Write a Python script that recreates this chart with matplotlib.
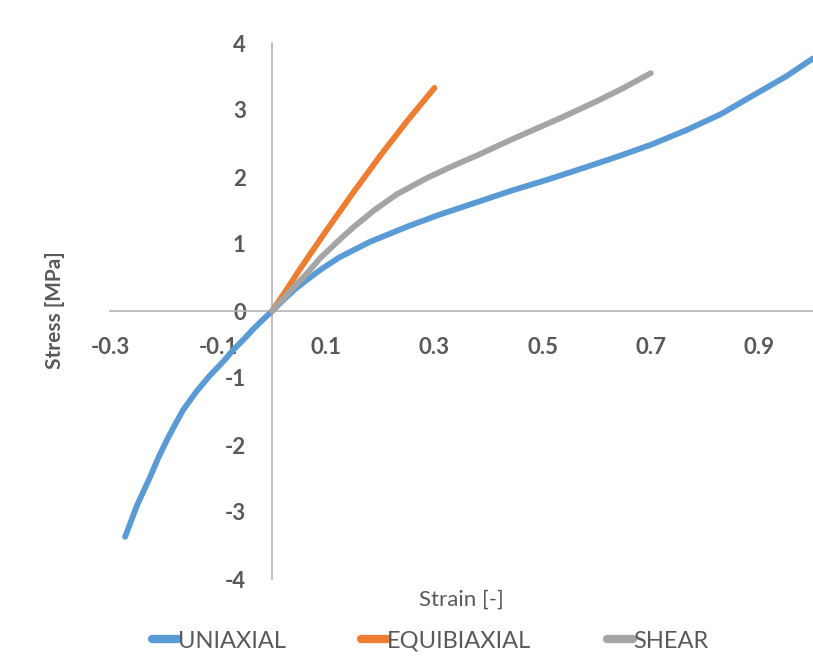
import matplotlib
matplotlib.use('Agg')
import matplotlib.pyplot as plt
from matplotlib.lines import Line2D

plt.rcParams['font.family'] = ['Lato', 'DejaVu Sans']
plt.rcParams['axes.unicode_minus'] = False

# curves
uni_strain = [-0.272, -0.25, -0.226, -0.21, -0.195, -0.18, -0.165, -0.14, -0.115,
              -0.09, -0.072, -0.05, -0.035, -0.02, 0.0, 0.02, 0.04, 0.06, 0.09,
              0.124, 0.18, 0.253, 0.31, 0.381, 0.44, 0.509, 0.57, 0.637, 0.70,
              0.766, 0.83, 0.894, 0.95, 1.0]
uni_stress = [-3.37, -2.9, -2.48, -2.18, -1.93, -1.7, -1.48, -1.2, -0.96,
              -0.75, -0.58, -0.4, -0.27, -0.15, 0.0, 0.16, 0.31, 0.44, 0.62,
              0.8, 1.03, 1.27, 1.44, 1.63, 1.79, 1.96, 2.12, 2.30, 2.48,
              2.70, 2.94, 3.24, 3.5, 3.77]

equi_strain = [0.0, 0.025, 0.05, 0.1, 0.15, 0.2, 0.25, 0.3]
equi_stress = [0.0, 0.3, 0.61, 1.2, 1.77, 2.32, 2.84, 3.33]

shear_strain = [0.0, 0.03, 0.064, 0.09, 0.124, 0.15, 0.188, 0.23, 0.285, 0.33,
                0.381, 0.44, 0.533, 0.6, 0.65, 0.7]
shear_stress = [0.0, 0.27, 0.56, 0.8, 1.06, 1.25, 1.5, 1.74, 1.98, 2.15,
                2.33, 2.55, 2.88, 3.13, 3.33, 3.55]

x_ticks = [-0.3, -0.1, 0.1, 0.3, 0.5, 0.7, 0.9]
y_ticks = [-4, -3, -2, -1, 0, 1, 2, 3, 4]

names = ['UNIAXIAL', 'EQUIBIAXIAL', 'SHEAR']
colors = ['#5b9bd5', '#ed7d31', '#a5a5a5']
text_col = '#595959'
axis_col = '#b4b4b4'

fig = plt.figure(figsize=(8.13, 6.58), dpi=100)
ax = fig.add_axes([110 / 813, 79 / 658, 703 / 813, 536 / 658])

series = [(uni_strain, uni_stress), (equi_strain, equi_stress), (shear_strain, shear_stress)]
for (xs, ys), c in zip(series, colors):
    ax.plot(xs, ys, color=c, lw=4.2, solid_capstyle='round', solid_joinstyle='round', zorder=3)

ax.set_xlim(-0.3, 1.0)
ax.set_ylim(-4, 4)
ax.spines['left'].set_position('zero')
ax.spines['bottom'].set_position('zero')
ax.spines['right'].set_visible(False)
ax.spines['top'].set_visible(False)
for s in ('left', 'bottom'):
    ax.spines[s].set_color(axis_col)
    ax.spines[s].set_linewidth(1.2)

ax.set_xticks(x_ticks)
ax.set_xticklabels([f'{v:.1f}' for v in x_ticks])
ax.set_yticks(y_ticks)
ax.tick_params(length=0, pad=19, labelsize=16, labelcolor=text_col)
for lab in ax.get_xticklabels() + ax.get_yticklabels():
    lab.set_fontweight('bold')

fig.text(55 / 813, 1 - 310 / 658, 'Stress [MPa]', rotation=90, ha='center', va='center',
         fontsize=15, fontweight='bold', color=text_col)
fig.text(461 / 813, 1 - 600 / 658, 'Strain [-]', ha='center', va='center',
         fontsize=16, color=text_col)

handles = [Line2D([], [], color=c, lw=6, solid_capstyle='round') for c in colors]
fig.legend(handles, names, loc='center', bbox_to_anchor=(430 / 813, 1 - 641 / 658),
           ncol=3, frameon=False, fontsize=17, labelcolor=text_col,
           handlelength=1.1, handletextpad=0.0, columnspacing=3.2)

fig.savefig('out.png', dpi=100)
